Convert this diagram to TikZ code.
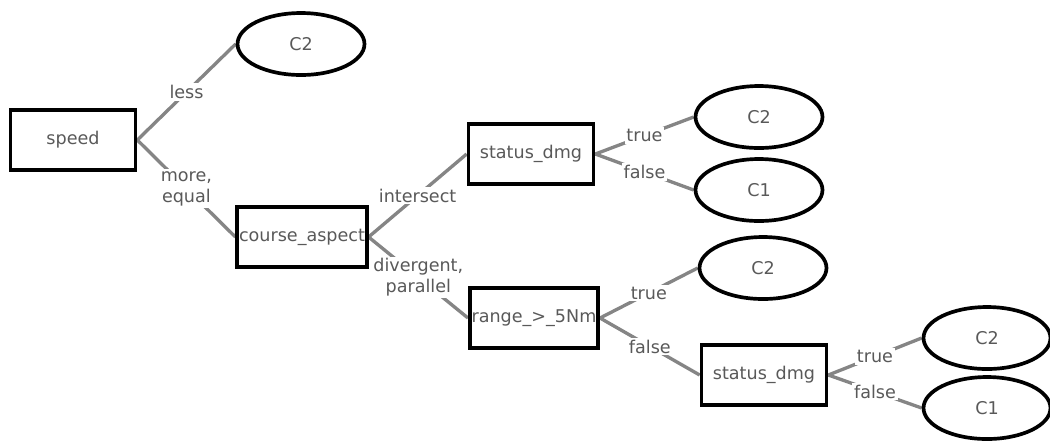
\documentclass[tikz,border=0pt]{standalone}
\usepackage{fontspec}
\setmainfont{DejaVu Sans}
\usetikzlibrary{shapes.geometric,backgrounds}

\begin{document}
\begin{tikzpicture}[x=0.02cm,y=-0.02cm,
  every node/.style={font=\fontsize{10}{12}\selectfont,text=black!65},
  test/.style={draw=black,line width=2.1pt,minimum width=2.5cm,minimum height=1.2cm,inner sep=1pt},
  leaf/.style={draw=black,line width=2.1pt,ellipse,minimum width=2.54cm,minimum height=1.24cm,inner sep=0pt},
  br/.style={draw=black!48,line width=1.9pt},
  lbl/.style={midway,fill=white,inner sep=1pt,align=center}]
\useasboundingbox (0,0) rectangle (1050,441);
\node[test] (speed) at (73,140) {speed};
\node[leaf] (c2a) at (301,44) {C2};
\node[test] (aspect) at (302,237) {course\_aspect};
\node[test] (dmgA) at (531,154) {status\_dmg};
\node[leaf] (c2b) at (759,117) {C2};
\node[leaf] (c1b) at (759,190) {C1};
\node[test] (range) at (534,318) {range\_>\_5Nm};
\node[leaf] (c2c) at (763,268) {C2};
\node[test] (dmgB) at (764,375) {status\_dmg};
\node[leaf] (c2d) at (987,338) {C2};
\node[leaf] (c1d) at (987,408) {C1};
\begin{scope}[on background layer]
\foreach \a/\b/\t in {speed/c2a/less, speed/aspect/{more,\\equal},
    aspect/dmgA/intersect, aspect/range/{divergent,\\parallel},
    dmgA/c2b/true, dmgA/c1b/false, range/c2c/true, range/dmgB/false,
    dmgB/c2d/true, dmgB/c1d/false}
  \draw[br] (\a.east) -- node[lbl] {\t} (\b.west);
\end{scope}
\end{tikzpicture}
\end{document}
